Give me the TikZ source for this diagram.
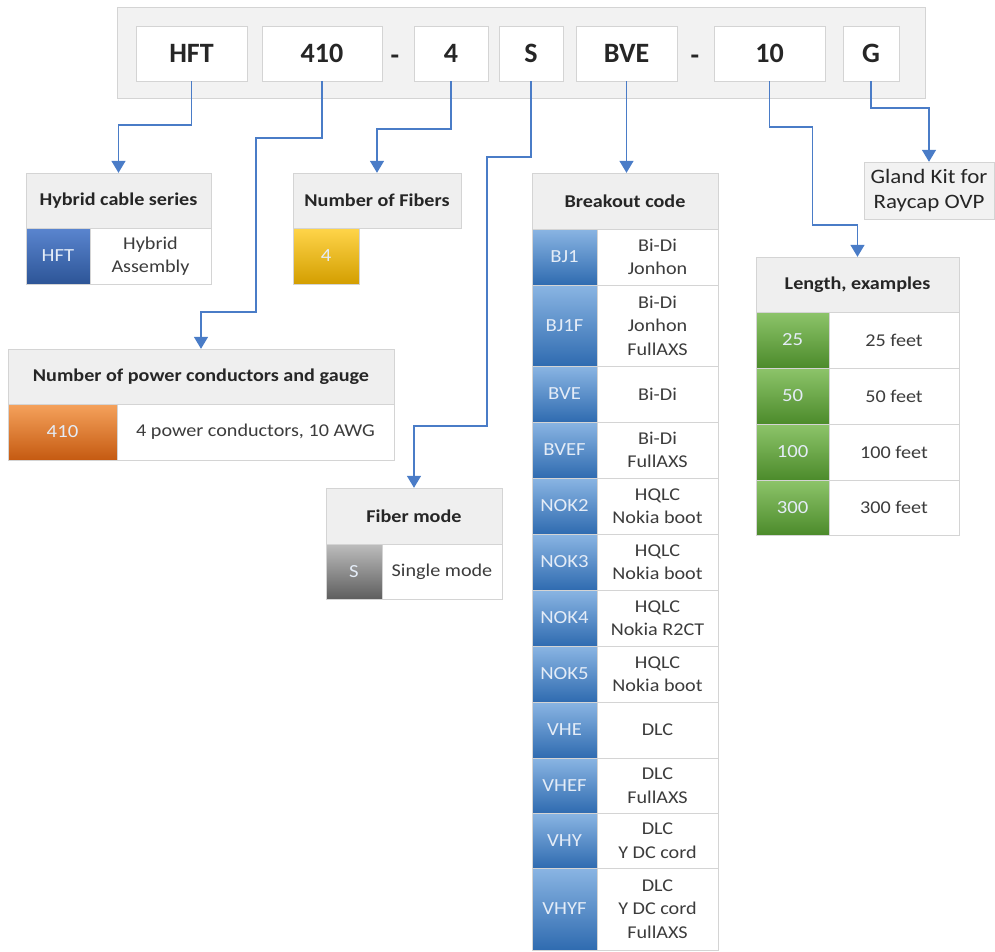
\documentclass[tikz,border=0pt]{standalone}
\usepackage{fontspec}
\setmainfont[FakeStretch=1.12]{Carlito}
\newfontfamily\barfont{Carlito}
\usetikzlibrary{arrows.meta}

\definecolor{barfill}{HTML}{F2F2F2}
\definecolor{edgegray}{HTML}{D4D4D4}
\definecolor{hdrfill}{HTML}{EFEFEF}
\definecolor{linkblue}{HTML}{4A7CC7}
\definecolor{txtdark}{HTML}{262626}
\definecolor{celltxt}{HTML}{E4ECF7}

\newcommand{\hdrsize}{\fontsize{18}{22}\selectfont}
\newcommand{\descsize}{\fontsize{18}{23.5}\selectfont}
\newcommand{\codesize}{\fontsize{18.5}{21}\selectfont}

\tikzset{
  barbox/.style={draw=edgegray, fill=white, inner sep=0, font=\barfont\fontsize{28}{30}\selectfont\bfseries, text=txtdark},
  hdr/.style={draw=edgegray, fill=hdrfill, inner sep=0, font=\hdrsize\bfseries, text=txtdark},
  desccell/.style={draw=edgegray, fill=white, inner sep=0, align=center, font=\descsize, text=txtdark!90},
  codecell/.style={draw=edgegray, inner sep=0, font=\codesize, text=celltxt},
  link/.style={draw=linkblue, line width=1.5pt, -{Triangle[width=14pt,length=12pt]}}
}

\begin{document}
\begin{tikzpicture}[x=1pt,y=-1pt]
  \definecolor{serTop}{HTML}{5A85CF}\definecolor{serBot}{HTML}{2D5597}
  \definecolor{bcTop}{HTML}{8AB5E3}\definecolor{bcBot}{HTML}{2F6BB0}
  \definecolor{orTop}{HTML}{F5A25C}\definecolor{orBot}{HTML}{C55A11}
  \definecolor{yeTop}{HTML}{FFD54A}\definecolor{yeBot}{HTML}{D39E00}
  \definecolor{grTop}{HTML}{8DC46A}\definecolor{grBot}{HTML}{4C8B2B}
  \definecolor{gyTop}{HTML}{BDBDBD}\definecolor{gyBot}{HTML}{5E5E5E}
  \useasboundingbox (0,0) rectangle (995,951);

  % part number bar
  \node[draw=edgegray, fill=barfill, minimum width=808, minimum height=91] (bar) at (521,52.5) {};
  \node[barbox, minimum width=111, minimum height=55] (pHFT) at (191.5,53.5) {HFT};
  \node[barbox, minimum width=120, minimum height=55] (p410) at (322,53.5) {410};
  \node[font=\barfont\fontsize{28}{30}\selectfont\bfseries, text=txtdark] (dashA) at (395,60) {-};
  \node[barbox, minimum width=74, minimum height=55] (p4) at (451,53.5) {4};
  \node[barbox, minimum width=64, minimum height=55] (pS) at (531,53.5) {S};
  \node[barbox, minimum width=101, minimum height=55] (pBVE) at (626.5,53.5) {BVE};
  \node[font=\barfont\fontsize{28}{30}\selectfont\bfseries, text=txtdark] (dashB) at (695,60) {-};
  \node[barbox, minimum width=111, minimum height=55] (p10) at (769.5,53.5) {10};
  \node[barbox, minimum width=56, minimum height=55] (pG) at (871,53.5) {G};

  % hybrid cable series
  \node[hdr, minimum width=185, minimum height=55] (serHdr) at (118.5,200.5) {Hybrid cable series};
  \node[codecell, top color=serTop, bottom color=serBot, minimum width=64, minimum height=56] (serCode) at (58,256) {HFT};
  \node[desccell, minimum width=121, minimum height=56] (serDesc) at (150.5,256) {Hybrid\\Assembly};

  % number of fibers
  \node[hdr, minimum width=168, minimum height=55] (fibHdr) at (377,200.5) {Number of Fibers};
  \node[codecell, top color=yeTop, bottom color=yeBot, minimum width=66, minimum height=56] (fibCode) at (326,256) {4};

  % power conductors
  \node[hdr, minimum width=386, minimum height=55] (pwrHdr) at (201,376.5) {Number of power conductors and gauge};
  \node[codecell, top color=orTop, bottom color=orBot, minimum width=109, minimum height=56] (pwrCode) at (62.5,432) {410};
  \node[desccell, minimum width=277, minimum height=56] (pwrDesc) at (255.5,432) {4 power conductors, 10 AWG};

  % fiber mode
  \node[hdr, minimum width=176, minimum height=56] (modeHdr) at (414,516) {Fiber mode};
  \node[codecell, top color=gyTop, bottom color=gyBot, minimum width=56, minimum height=55] (modeCode) at (354,571.5) {S};
  \node[desccell, minimum width=120, minimum height=55] (modeDesc) at (442,571.5) {Single mode};

  % breakout code
  \node[hdr, minimum width=186, minimum height=56] (bcHdr) at (625,201) {Breakout code};
  \foreach \cd/\ya/\yb/\ds in {BJ1/229/285/{Bi-Di\\Jonhon}, BJ1F/285/366/{Bi-Di\\Jonhon\\FullAXS},
      BVE/366/422/{Bi-Di}, BVEF/422/478/{Bi-Di\\FullAXS}, NOK2/478/534/{HQLC\\Nokia boot},
      NOK3/534/590/{HQLC\\Nokia boot}, NOK4/590/646/{HQLC\\Nokia R2CT}, NOK5/646/702/{HQLC\\Nokia boot},
      VHE/702/758/{DLC}, VHEF/758/813/{DLC\\FullAXS}, VHY/813/868/{DLC\\Y DC cord},
      VHYF/868/950/{DLC\\Y DC cord\\FullAXS}}{
    \node[codecell, top color=bcTop, bottom color=bcBot, minimum width=65, minimum height=\yb-\ya] (bc\cd) at (564.5,{(\ya+\yb)/2}) {\cd};
    \node[desccell, minimum width=121, minimum height=\yb-\ya] (bd\cd) at (657.5,{(\ya+\yb)/2}) {\ds};
  }

  % length
  \node[hdr, minimum width=203, minimum height=55] (lenHdr) at (857.5,284.5) {Length, examples};
  \foreach \ft/\ya/\yb in {25/312/368, 50/368/424, 100/424/480, 300/480/535}{
    \node[codecell, top color=grTop, bottom color=grBot, minimum width=73, minimum height=\yb-\ya] (len\ft) at (792.5,{(\ya+\yb)/2}) {\ft};
    \node[desccell, minimum width=130, minimum height=\yb-\ya] (lenD\ft) at (894,{(\ya+\yb)/2}) {\ft\ feet};
  }

  % gland kit
  \node[draw=edgegray, fill=barfill, inner sep=0, minimum width=130, minimum height=57, align=center,
        font=\fontsize{20.5}{25}\selectfont, text=txtdark] (glandHdr) at (929,190.5) {Gland Kit for\\Raycap OVP};

  % connectors
  \draw[link] (pHFT.south) -- ++(0,44) -| (serHdr.north);
  \draw[link] (p410.south) -- ++(0,57) -- ++(-66,0) -- ++(0,174) -| (pwrHdr.north);
  \draw[link] (p4.south) -- ++(0,48) -| (fibHdr.north);
  \draw[link] (pS.south) -- ++(0,76) -- ++(-44,0) -- ++(0,269) -| (modeHdr.north);
  \draw[link] (pBVE.south) -- (pBVE.south |- bcHdr.north);
  \draw[link] (p10.south) -- ++(0,46) -- ++(43,0) -- ++(0,98) -| (lenHdr.north);
  \draw[link] (pG.south) -- ++(0,27) -| (glandHdr.north);
\end{tikzpicture}
\end{document}
